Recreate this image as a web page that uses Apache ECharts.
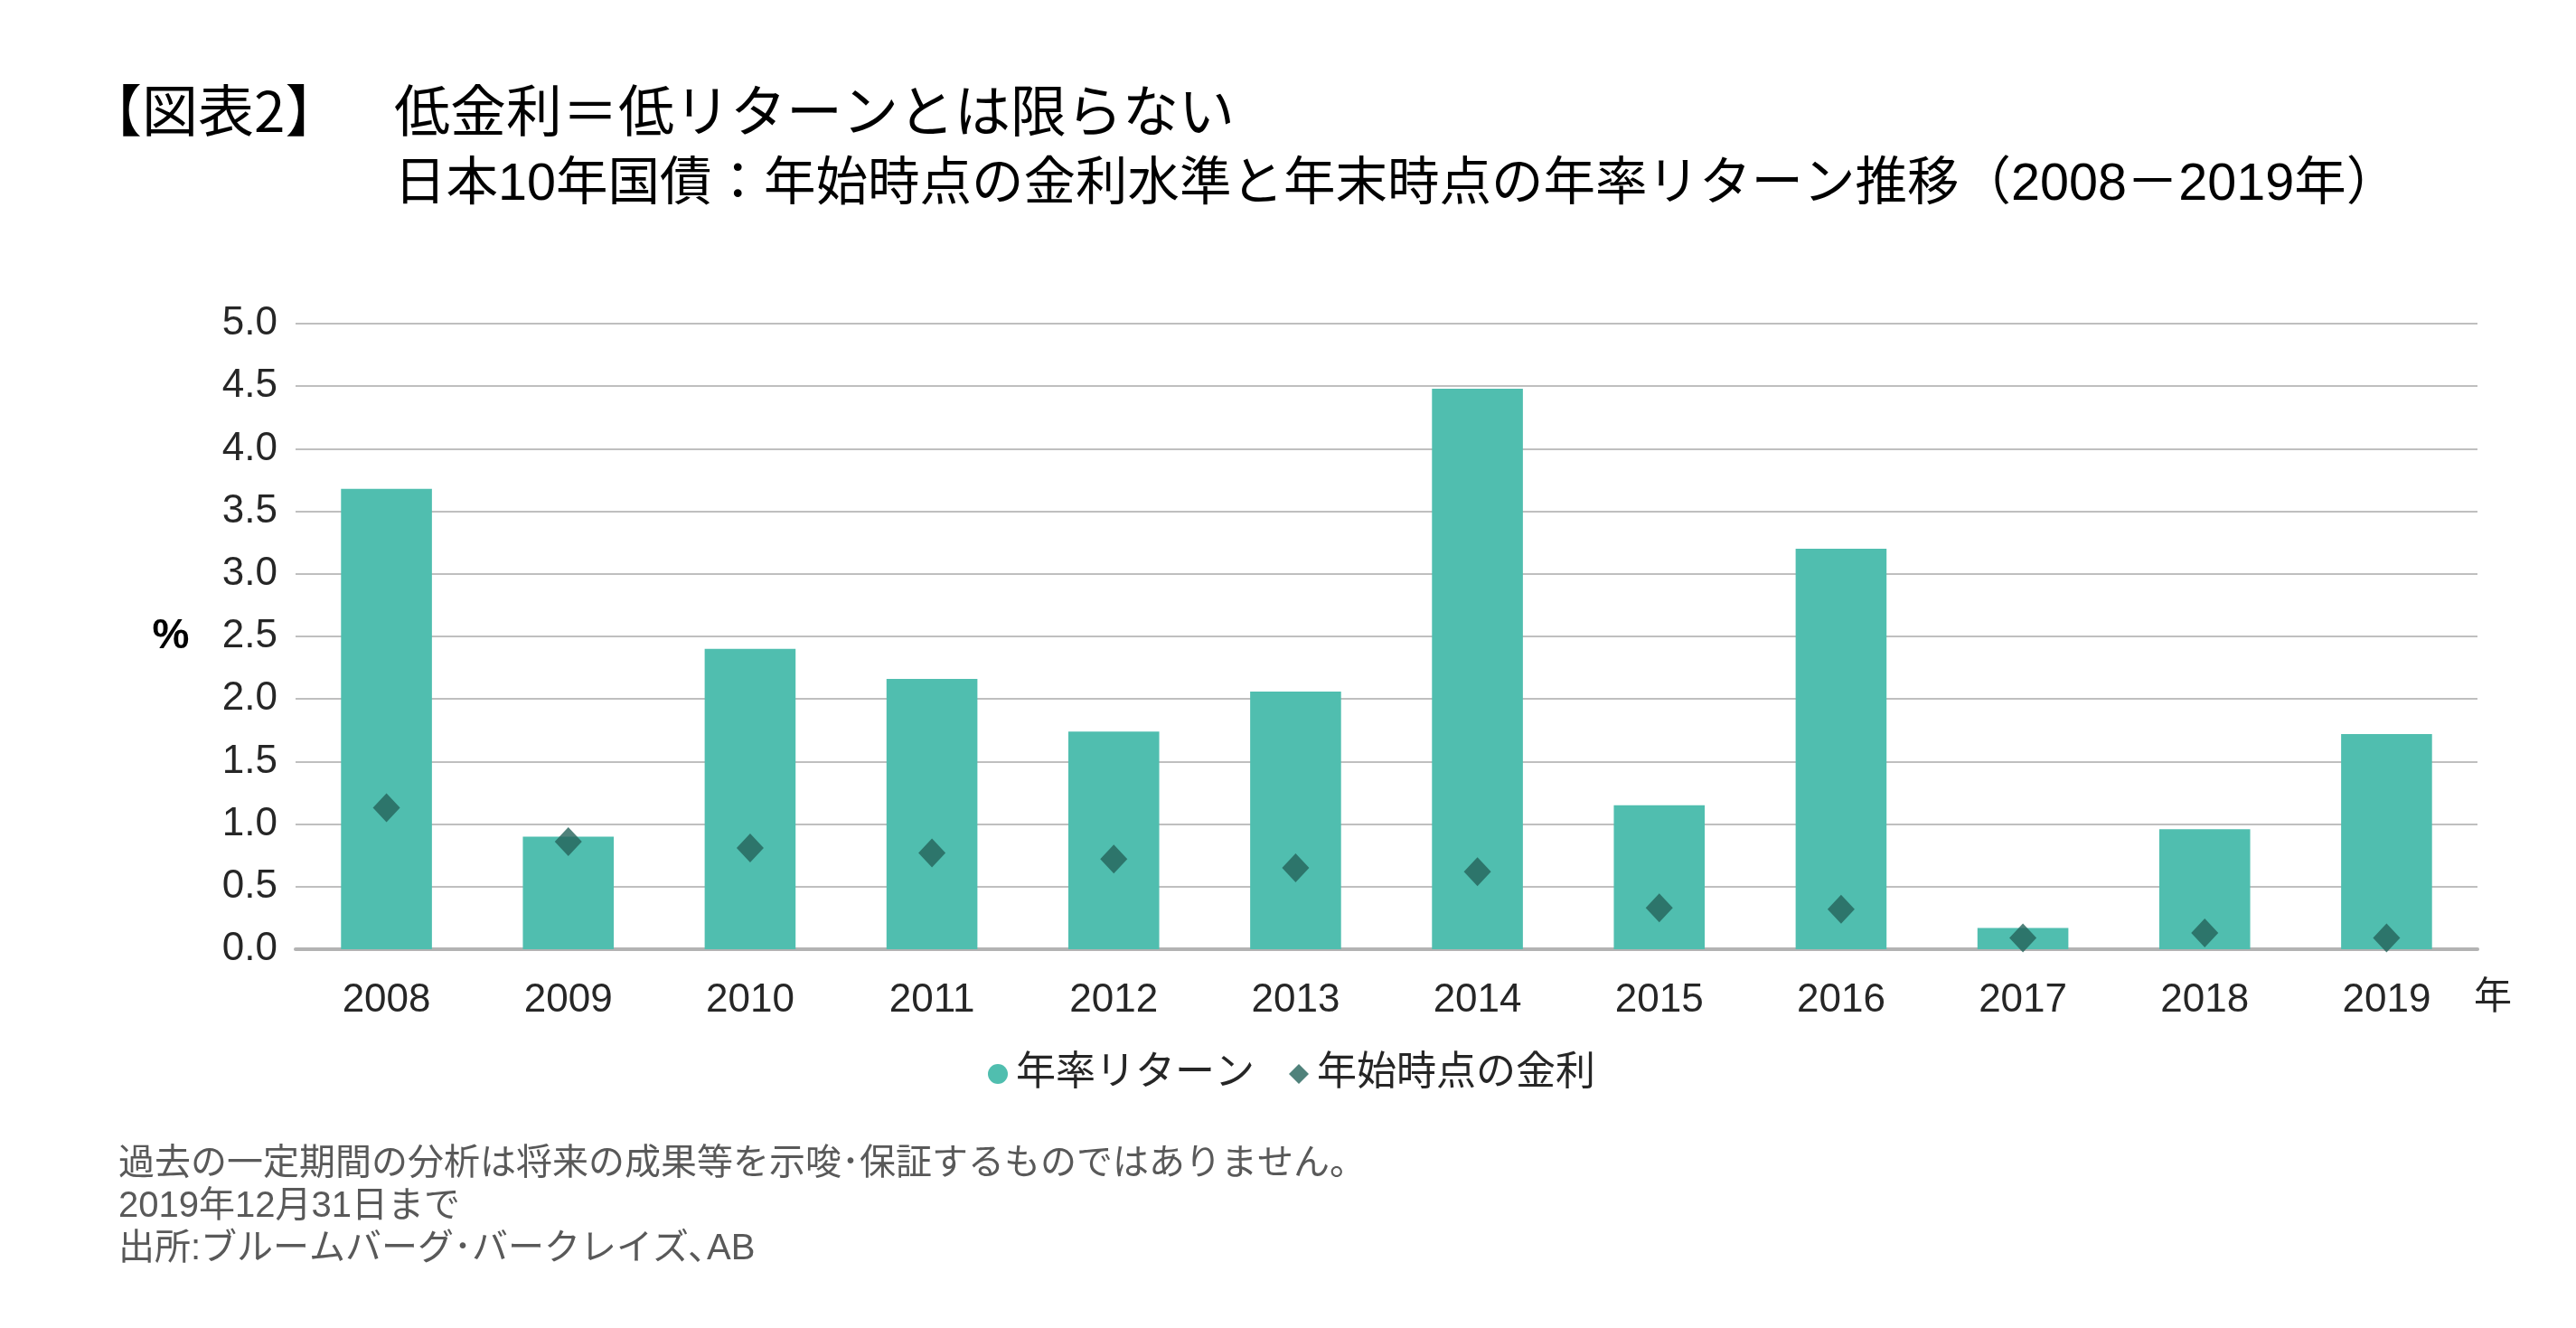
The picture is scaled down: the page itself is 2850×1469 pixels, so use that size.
<!DOCTYPE html>
<html>
<head>
<meta charset="utf-8">
<script src="https://cdn.jsdelivr.net/npm/echarts@6/dist/echarts.min.js"></script>
<style>
html,body{margin:0;padding:0;background:#fff;}
#chart{width:2850px;height:1469px;}
</style>
</head>
<body>
<div id="chart"></div>
<script>
const years = ['2008','2009','2010','2011','2012','2013','2014','2015','2016','2017','2018','2019'];
const annualReturn = [3.68, 0.90, 2.40, 2.16, 1.74, 2.06, 4.48, 1.15, 3.20, 0.17, 0.96, 1.72];
const startYield = [1.13, 0.86, 0.81, 0.77, 0.72, 0.65, 0.62, 0.33, 0.32, 0.09, 0.13, 0.09];
const seriesNames = ['年率リターン', '年始時点の金利'];
const titleTag = '【図表2】';
const titleMain = '低金利＝低リターンとは限らない';
const subTitle = '日本10年国債：年始時点の金利水準と年末時点の年率リターン推移（2008－2019年）';
const notes = ['過去の一定期間の分析は将来の成果等を示唆･保証するものではありません。', '2019年12月31日まで', '出所:ブルームバーグ･バークレイズ､AB'];

const FONT = "'Liberation Sans', 'Noto Sans CJK JP', sans-serif";
const chart = echarts.init(document.getElementById('chart'));
chart.setOption({
  backgroundColor: '#ffffff',
  textStyle: { fontFamily: FONT },
  animation: false,
  grid: { left: 327, right: 109, top: 358, bottom: 419, containLabel: false },
  legend: {
    left: 1088, top: 1161,
    itemWidth: 22, itemHeight: 22, itemGap: 38,
    textStyle: { fontSize: 44, color: '#262626', fontFamily: FONT, padding: [0,0,0,4] },
    data: [
      { name: seriesNames[0], icon: 'circle' },
      { name: seriesNames[1], icon: 'diamond' }
    ]
  },
  xAxis: {
    type: 'category',
    data: years,
    axisLine: { show: true, lineStyle: { color: '#B3B3B3', width: 4 } },
    axisTick: { show: false },
    axisLabel: { fontSize: 44, color: '#262626', margin: 35, fontFamily: FONT }
  },
  yAxis: {
    type: 'value',
    min: 0, max: 5, interval: 0.5,
    name: '%',
    nameLocation: 'middle',
    nameRotate: 0,
    nameGap: 138,
    nameTextStyle: { fontSize: 46, color: '#000', fontWeight: 'bold', align: 'center', verticalAlign: 'middle', fontFamily: FONT },
    axisLine: { show: false },
    axisTick: { show: false },
    axisLabel: { fontSize: 44, color: '#262626', margin: 20, fontFamily: FONT, formatter: v => v.toFixed(1) },
    splitLine: { show: true, lineStyle: { color: '#BFBFBF', width: 2 } }
  },
  series: [
    {
      name: seriesNames[0], type: 'bar', data: annualReturn,
      barWidth: '50%',
      itemStyle: { color: '#50BEAF' },
      z: 2
    },
    {
      name: seriesNames[1], type: 'scatter', data: startYield,
      symbol: 'diamond', symbolSize: [30, 32],
      itemStyle: { color: '#24635A' },
      z: 5
    }
  ],
  graphic: [
    { type: 'text', left: 95, top: 127 - 36, style: { text: titleTag, fontSize: 62, fill: '#000', letterSpacing: 7, fontFamily: "'Noto Sans CJK JP', sans-serif" } },
    { type: 'text', left: 436, top: 127 - 36, style: { text: titleMain, fontSize: 62, fill: '#000', fontFamily: "'Noto Sans CJK JP', sans-serif" } },
    { type: 'text', left: 436, top: 209 - 33, style: { text: subTitle, fontSize: 57.5, fill: '#000', fontFamily: FONT } },
    { type: 'text', left: 2737, top: 1105 - 22, style: { text: '年', fontSize: 42, fill: '#262626', fontFamily: FONT } },
    { type: 'text', left: 131, top: 1290 - 22, style: { text: notes[0], fontSize: 40, fill: '#595959', fontFamily: FONT } },
    { type: 'text', left: 131, top: 1337 - 22, style: { text: notes[1], fontSize: 40, fill: '#595959', fontFamily: FONT } },
    { type: 'text', left: 131, top: 1384 - 22, style: { text: notes[2], fontSize: 40, fill: '#595959', fontFamily: FONT } }
  ]
});
</script>
</body>
</html>
